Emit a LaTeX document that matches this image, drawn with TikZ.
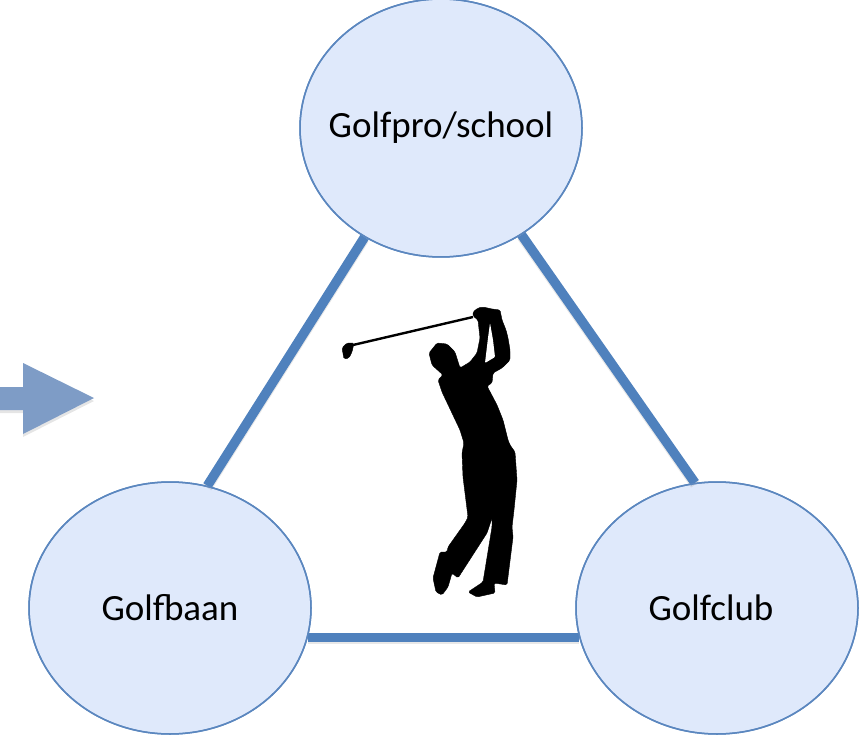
\documentclass[tikz,border=0pt]{standalone}
\usepackage{fontspec}
\setmainfont{Carlito}
\usetikzlibrary{shapes.geometric}
\definecolor{edgeblue}{HTML}{4F81BD}
\definecolor{ringblue}{HTML}{5B87BF}
\definecolor{fillblue}{HTML}{DFE9FB}
\definecolor{arrowblue}{HTML}{7E9CC6}
\tikzset{
  circ/.style={ellipse,draw=ringblue,line width=1.5pt,fill=fillblue,inner sep=0pt,font=\fontsize{37pt}{40pt}\selectfont,text=black},
  link/.style={draw=edgeblue,line width=9.5pt},
  linkshadow/.style={draw=black!45,line width=9.5pt,opacity=.2},
  figure/.style={fill=black,draw=black,line width=.4pt,line join=round,rounded corners=1.5pt}
}
\begin{document}
\begin{tikzpicture}[x=1pt,y=-1pt]
\useasboundingbox (0,0) rectangle (859,735);
% nodes
\node[circ,minimum width=282pt,minimum height=258pt] (pro) at (441,128) {\makebox[0pt]{\raisebox{2pt}{Golfpro/school}}};
\node[circ,minimum width=282pt,minimum height=252pt] (baan) at (170,608) {\makebox[0pt]{Golfbaan}};
\node[circ,minimum width=282pt,minimum height=252pt] (club) at (717,608) {\makebox[0pt]{\hspace{-12pt}Golfclub}};
% connectors
\draw[linkshadow,transform canvas={yshift=-2pt}] (pro.235) -- (baan.73);
\draw[linkshadow,transform canvas={yshift=-2pt}] (pro.-53) -- (club.100);
\draw[linkshadow,transform canvas={yshift=-2pt}] (baan.-12) -- (club.192);
\draw[link] (pro.235) -- (baan.73);
\draw[link] (pro.-53) -- (club.100);
\draw[link] (baan.-12) -- (club.192);
% rims above connector ends
\draw[ringblue,line width=1.5pt] (pro.center) ellipse [x radius=141pt,y radius=129pt];
\draw[ringblue,line width=1.5pt] (baan.center) ellipse [x radius=141pt,y radius=126pt];
\draw[ringblue,line width=1.5pt] (club.center) ellipse [x radius=141pt,y radius=126pt];
% arrow
\fill[black,opacity=.10] (0,390) -- (23,390) -- (23,366) -- (94,401) -- (23,437) -- (23,413) -- (0,413) -- cycle;
\fill[arrowblue] (0,387) -- (23,387) -- (23,363) -- (94,398) -- (23,434) -- (23,410) -- (0,410) -- cycle;
% golfer
\path[figure]
  (473,316) -- (473,312) -- (478,308) -- (483,307) -- (492,309) -- (500,310) -- (502,320) -- (506,330) -- (508,338) -- (510,350) -- (510,360)
  -- (502,368) -- (493,373) -- (492,383) -- (487,386) -- (497,405) -- (503,420) -- (508,440) -- (510,445) -- (515,452) -- (517,480) -- (514,510) -- (512,527) -- (513,537)
  -- (507,585) -- (494,583) -- (495,593) -- (477,597) -- (468,592) -- (483,582) -- (492,527) -- (492,518) -- (487,533) -- (458,578) -- (452,573)
  -- (448,587) -- (442,595) -- (436,592) -- (433,578) -- (440,552) -- (447,552) -- (448,547) -- (465,523) -- (468,517) -- (463,477) -- (462,453) -- (464,443) -- (460,430)
  -- (442,392) -- (438,380) -- (443,375) -- (432,365) -- (429,353) -- (437,343) -- (447,344) -- (455,352) -- (460,368) -- (470,362) -- (477,353) -- (480,338) -- (478,320) -- cycle;
\path[fill=white,rounded corners=1pt] (490,323) -- (488,338) -- (485,363) -- (495,357) -- (493,340) -- cycle;
\draw[black,line width=2.4pt] (353,345) -- (473,317);
\path[figure] (342,348) -- (347,343) -- (354,343) -- (352,352) -- (349,358) -- (344,359) -- cycle;
\end{tikzpicture}
\end{document}
